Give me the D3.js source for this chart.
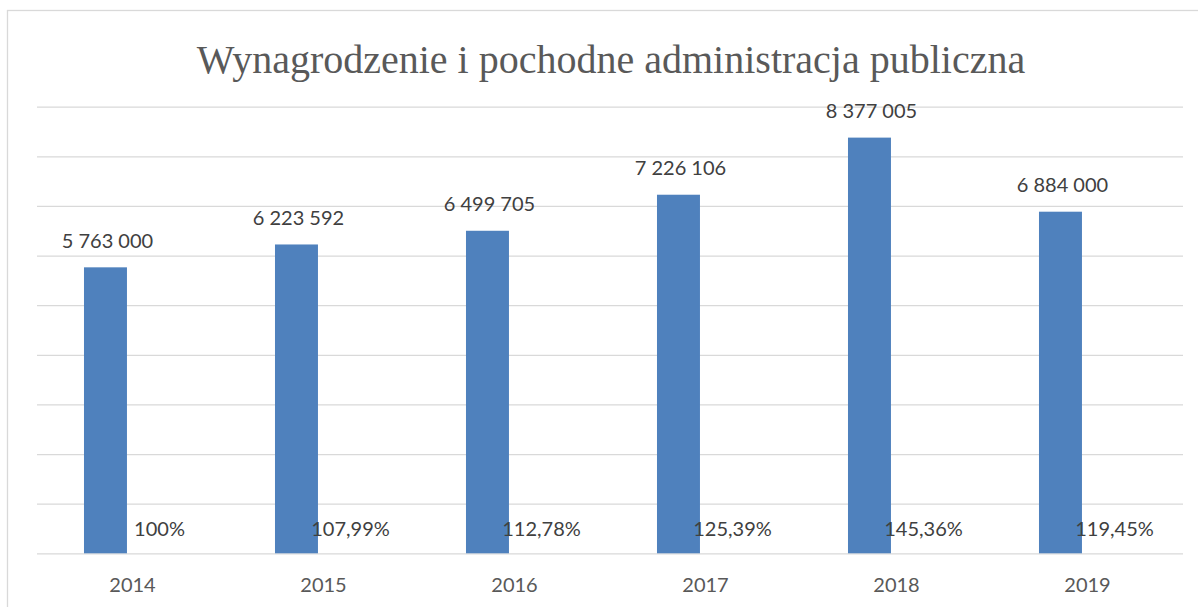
<!DOCTYPE html>
<html>
<head>
<meta charset="utf-8">
<script src="https://cdn.jsdelivr.net/npm/d3@7"></script>
<style>
  body { margin: 0; background: #fff; }
  svg { display: block; }
  .grid line { stroke: #d9d9d9; stroke-width: 1.3; }
  .grid .domain { display: none; }
  text { font-family: Lato, "Open Sans", sans-serif; }
</style>
</head>
<body>
<div id="chart"></div>
<script>
const years = ["2014", "2015", "2016", "2017", "2018", "2019"];
const amounts = [5763000, 6223592, 6499705, 7226106, 8377005, 6884000];
const percents = [100, 107.99, 112.78, 125.39, 145.36, 119.45];
const yMax = 9000000;
const chartTitle = "Wynagrodzenie i pochodne administracja publiczna";

function makeChart() {
    const width = 1198,
        height = 607;
    const margin = { left: 37, right: 15, top: 106.7, bottom: 53.7 };

    const pl = d3.formatLocale({ decimal: ",", thousands: " ", grouping: [3], currency: ["", ""] });
    const fmtAmount = pl.format(",d");
    const fmtPct = v => pl.format(",")(+v.toFixed(2)) + "%";

    let svg = d3.select('#chart').append('svg')
        .attr('width', width)
        .attr('height', height);

    // chart frame (runs off the right and bottom edge)
    svg.append('rect')
        .attr('x', 7.5).attr('y', 10.5)
        .attr('width', 1210).attr('height', 620)
        .attr('fill', 'none')
        .attr('stroke', '#d9d9d9')
        .attr('stroke-width', 1.3);

    let x = d3.scaleBand()
        .domain(years)
        .range([margin.left, width - margin.right]);

    let y = d3.scaleLinear()
        .domain([0, yMax])
        .range([height - margin.bottom, margin.top]);

    // gridlines
    svg.append('g')
        .attr('class', 'grid')
        .attr('transform', 'translate(' + margin.left + ',0)')
        .call(d3.axisLeft(y).ticks(9).tickSize(-(x.range()[1] - x.range()[0])).tickFormat(''));

    const bw = x.bandwidth();
    const barX = d => x(d) + bw * 0.246;
    const barW = bw * 0.225;

    // bars
    svg.append('g')
        .selectAll('rect')
        .data(years)
        .enter().append('rect')
        .attr('x', d => barX(d))
        .attr('width', barW)
        .attr('y', (d, i) => y(amounts[i]))
        .attr('height', (d, i) => y(0) - y(amounts[i]))
        .attr('fill', '#4f81bd');

    // amount labels
    svg.append('g')
        .selectAll('text')
        .data(years)
        .enter().append('text')
        .attr('x', d => barX(d) + barW / 2 + 2)
        .attr('y', (d, i) => y(amounts[i]) - 19.5)
        .attr('text-anchor', 'middle')
        .attr('font-size', 20)
        .attr('fill', '#404040')
        .text((d, i) => fmtAmount(amounts[i]));

    // percent labels
    svg.append('g')
        .selectAll('text')
        .data(years)
        .enter().append('text')
        .attr('x', d => x(d) + bw / 2 + 27)
        .attr('y', y(0) - 17)
        .attr('text-anchor', 'middle')
        .attr('font-size', 20)
        .attr('fill', '#404040')
        .text((d, i) => fmtPct(percents[i]));

    // category labels
    svg.append('g')
        .selectAll('text')
        .data(years)
        .enter().append('text')
        .attr('x', d => x(d) + bw / 2)
        .attr('y', y(0) + 39)
        .attr('text-anchor', 'middle')
        .attr('font-size', 20)
        .attr('fill', '#595959')
        .text(d => d);

    // title
    svg.append('text')
        .attr('x', 611)
        .attr('y', 72.5)
        .attr('text-anchor', 'middle')
        .style('font-family', '"Liberation Serif", "DejaVu Serif", serif')
        .attr('font-size', 40)
        .attr('fill', '#595959')
        .text(chartTitle);
}

makeChart();
</script>
</body>
</html>
